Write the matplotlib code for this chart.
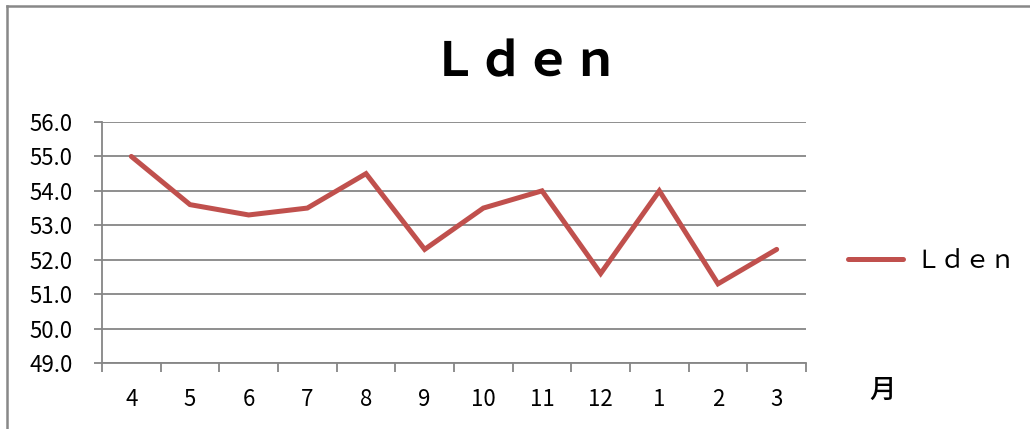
import matplotlib
matplotlib.use("Agg")
import matplotlib.pyplot as plt
from matplotlib.lines import Line2D

plt.rcParams['font.family'] = ['Noto Sans CJK JP', 'DejaVu Sans']

# データ
months = ['4', '5', '6', '7', '8', '9', '10', '11', '12', '1', '2', '3']
lden = [55.0, 53.6, 53.3, 53.5, 54.5, 52.3, 53.5, 54.0, 51.6, 54.0, 51.3, 52.3]
yticks = [49.0, 50.0, 51.0, 52.0, 53.0, 54.0, 55.0, 56.0]
title = 'Ｌｄｅｎ'
xlabel = '月'

W, H = 1030, 429
fig = plt.figure(figsize=(W / 100, H / 100), dpi=100)
ax = fig.add_axes([102 / W, 1 - 363 / H, (806 - 102) / W, (363 - 122) / H])

x = list(range(len(months)))
ax.plot(x, lden, color='#C0504D', linewidth=3.6, solid_capstyle='round',
        solid_joinstyle='miter', label=title)

ax.set_xlim(-0.5, len(months) - 0.5)
ax.set_ylim(49, 56)
ax.set_yticks(yticks)
ax.set_yticklabels([f'{v:.1f}' for v in yticks])
ax.set_xticks(x)
ax.set_xticklabels(months)
ax.set_xticks([i - 0.5 for i in range(len(months) + 1)], minor=True)

grid_c = '#868686'
ax.grid(axis='y', color=grid_c, linewidth=1.3)
ax.set_axisbelow(True)
for s in ['top', 'right']:
    ax.spines[s].set_visible(False)
for s in ['left', 'bottom']:
    ax.spines[s].set_color(grid_c)
    ax.spines[s].set_linewidth(1.3)

ax.tick_params(axis='y', length=6, width=1.3, color=grid_c, pad=15, labelsize=16)
ax.tick_params(axis='x', which='major', length=0, pad=18, labelsize=16)
ax.tick_params(axis='x', which='minor', length=6.5, width=1.3, color=grid_c)

fig.text(525 / W, 1 - 62 / H, title, ha='center', va='center', fontsize=34,
         fontweight='bold')
fig.text(882 / W, 1 - 390 / H, xlabel, ha='center', va='center', fontsize=19,
         fontweight='medium')

ax.legend(loc='center left', bbox_to_anchor=(848 / W, 1 - 261 / H),
          bbox_transform=fig.transFigure, frameon=False, fontsize=18,
          handlelength=2.2, handletextpad=0.5, borderpad=0, borderaxespad=0)

# 外枠
fig.add_artist(Line2D([7 / W, 7 / W], [0, 1 - 6 / H], transform=fig.transFigure,
                      color='#888888', linewidth=1.8))
fig.add_artist(Line2D([7 / W, 1], [1 - 6 / H, 1 - 6 / H], transform=fig.transFigure,
                      color='#888888', linewidth=1.8))

fig.savefig('out.png', dpi=100)
